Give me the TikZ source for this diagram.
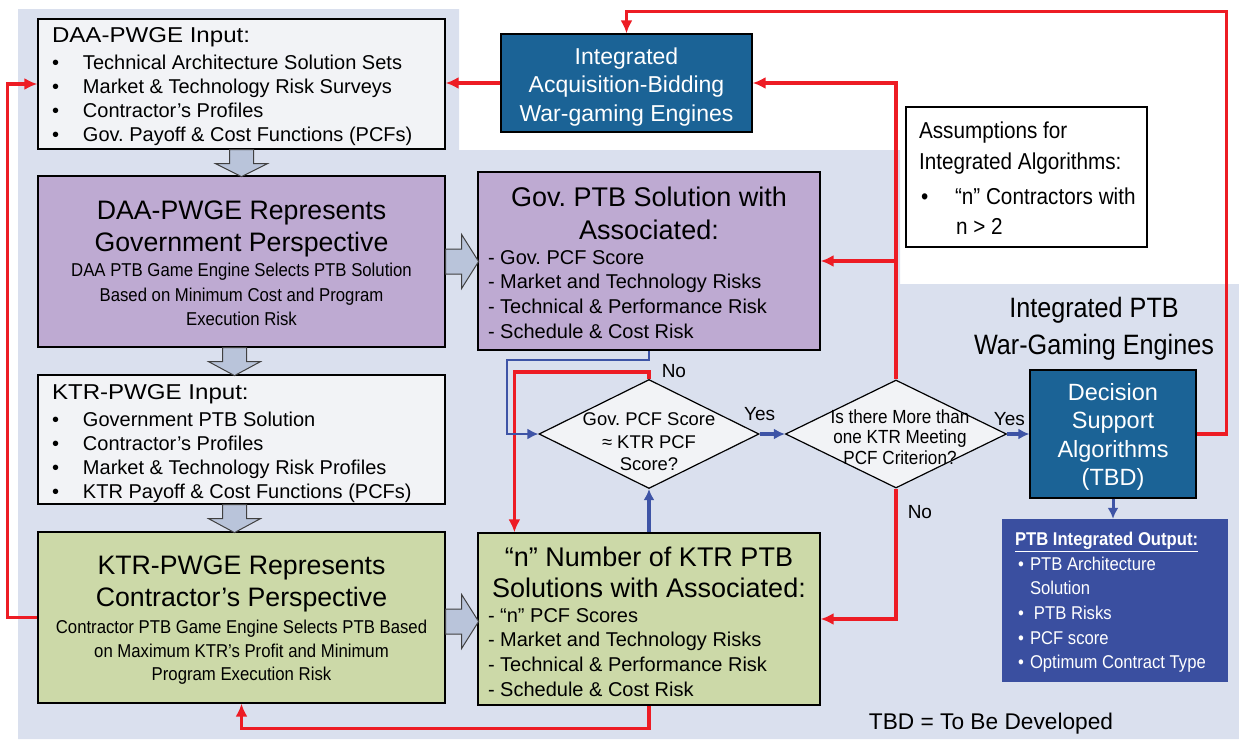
\documentclass[tikz,border=0pt]{standalone}
\usepackage{fontspec}
\setmainfont{Liberation Sans}
\newfontfamily\narrowsf[FakeStretch=0.9]{Liberation Sans}
\newfontfamily\widesf[FakeStretch=1.12]{Liberation Sans}
\usetikzlibrary{calc,positioning,shapes.geometric,arrows.meta}
\frenchspacing

\definecolor{bgblue}{RGB}{218,224,238}
\definecolor{inputgray}{RGB}{242,243,246}
\definecolor{govpurple}{RGB}{190,170,210}
\definecolor{ktrgreen}{RGB}{204,217,168}
\definecolor{engineblue}{RGB}{27,99,150}
\definecolor{outblue}{RGB}{58,79,160}
\definecolor{arrowred}{RGB}{237,28,36}
\definecolor{linkblue}{RGB}{62,84,166}
\definecolor{fatgray}{RGB}{185,196,218}

\newcommand{\itm}{\makebox[31pt][l]{\textbullet}}
\newcommand{\outitm}{\makebox[15pt][l]{\hspace{3pt}\textbullet}}
\newcommand{\textnudge}[1]{\par\kern#1\relax}

\begin{document}
\begin{tikzpicture}[x=1pt,y=-1pt,
                >={Latex[length=13pt,width=12pt]},
                leftpara/.style={execute at begin node={\spaceskip=0pt\xspaceskip=0pt\relax\raggedright}},
                midpara/.style={execute at begin node={\spaceskip=0pt\xspaceskip=0pt\relax\centering}},
                inbox/.style={draw,line width=1.2pt,fill=inputgray,leftpara,inner xsep=14pt,
                    text width=379pt,minimum width=407pt,font=\fontsize{20}{24}\selectfont},
                repbox/.style={draw,line width=1.2pt,fill=#1,midpara,inner xsep=6pt,
                    text width=395pt,minimum width=407pt,font=\fontsize{18.6}{24.5}\selectfont},
                solbox/.style={draw,line width=1.2pt,fill=#1,leftpara,inner xsep=10pt,
                    text width=322pt,minimum width=342pt,font=\fontsize{20}{24.6}\selectfont},
                enginebox/.style={draw,line width=1.2pt,fill=engineblue,text=white,midpara,inner sep=0pt},
                decision/.style={diamond,draw,line width=1.2pt,fill=inputgray,inner sep=0pt,
                    minimum width=220pt,minimum height=109pt},
                lbl/.style={inner sep=0pt,font=\fontsize{19}{20}\selectfont},
                redline/.style={draw=arrowred,line width=3.5pt,->},
                blueline/.style={draw=linkblue,line width=#1,>={Latex[length=11pt,width=11pt]},->},
                fatarrow/.style={draw=black!75,line width=1pt,fill=fatgray}
            ]
                \useasboundingbox (0,0) rectangle (1239,739);
                \fill[bgblue] (18,9) -- (459,9) -- (459,150) -- (900,150) -- (900,284)
                    -- (1239,284) -- (1239,739) -- (18,739) -- cycle;

                % left column
                \node[inbox,minimum height=130pt] (daain) at (241.5,84)
                    {{\widesf\fontsize{21.5}{24}\selectfont DAA-PWGE Input:}\\[3pt]
                     \itm Technical Architecture Solution Sets\\
                     \itm Market \& Technology Risk Surveys\\
                     \itm Contractor’s Profiles\\
                     \itm Gov. Payoff \& Cost Functions (PCFs)\textnudge{-6pt}};
                \node[repbox=govpurple,minimum height=171pt] (daarep) at (241.5,261.5)
                    {{\fontsize{26.7}{32}\selectfont DAA-PWGE Represents\\Government Perspective\par}
                     \vspace{1pt}
                     {\narrowsf\fontsize{18.6}{24.5}\selectfont DAA PTB Game Engine Selects PTB Solution\\
                      Based on Minimum Cost and Program\\Execution Risk\par}\textnudge{-3.4pt}};
                \node[inbox,minimum height=129pt] (ktrin) at (241.5,439.5)
                    {{\widesf\fontsize{21.5}{24}\selectfont KTR-PWGE Input:}\\[3pt]
                     \itm Government PTB Solution\\
                     \itm Contractor’s Profiles\\
                     \itm Market \& Technology Risk Profiles\\
                     \itm KTR Payoff \& Cost Functions (PCFs)\textnudge{-8pt}};
                \node[repbox=ktrgreen,minimum height=171pt] (ktrrep) at (241.5,617.5)
                    {{\fontsize{26.7}{32}\selectfont KTR-PWGE Represents\\Contractor’s Perspective\par}
                     \vspace{3.7pt}
                     {\narrowsf\fontsize{18.6}{23.5}\selectfont Contractor PTB Game Engine Selects PTB Based\\
                      on Maximum KTR’s Profit and Minimum\\Program Execution Risk\par}\textnudge{-5pt}};

                % middle column
                \node[enginebox,minimum width=251pt,minimum height=98pt,text width=245pt,
                    font=\fontsize{23}{28.5}\selectfont] (iabwe) at (626.5,83)
                    {Integrated\\Acquisition-Bidding\\War-gaming Engines\textnudge{-8pt}};
                \node[solbox=govpurple,minimum height=178pt] (govsol) at (649,261)
                    {{\centering\fontsize{27}{33}\selectfont Gov. PTB Solution with\\Associated:\par}
                     - Gov. PCF Score\\
                     - Market and Technology Risks\\
                     - Technical \& Performance Risk\\
                     - Schedule \& Cost Risk\textnudge{-3.4pt}};
                \node[solbox=ktrgreen,minimum height=172pt] (nsol) at (649,619)
                    {{\centering\fontsize{27}{31}\selectfont “n” Number of KTR PTB\\Solutions with Associated:\par}
                     - “n” PCF Scores\\
                     - Market and Technology Risks\\
                     - Technical \& Performance Risk\\
                     - Schedule \& Cost Risk\textnudge{-5.4pt}};
                \node[decision] (dia1) at (649,434) {};
                \node[midpara,text width=170pt,font=\fontsize{18.4}{22.5}\selectfont] (dia1txt)
                    at ($(dia1)+(0,8)$) {Gov. PCF Score\\≈ KTR PCF\\Score?};
                \node[decision,minimum width=221pt,minimum height=108pt] (dia2) at (896,434) {};
                \node[midpara,text width=170pt,font=\narrowsf\fontsize{19}{20.5}\selectfont] (dia2txt)
                    at ($(dia2)+(4,3)$) {Is there More than\\one KTR Meeting\\PCF Criterion?};

                % right column
                \node[draw,line width=1.2pt,fill=white,leftpara,inner xsep=13pt,text width=215pt,
                    minimum width=241pt,minimum height=140pt,font=\narrowsf\fontsize{23}{30.5}\selectfont]
                    (assume) at (1026.5,177)
                    {Assumptions for\\Integrated Algorithms:\\[4.5pt]
                     \mbox{\makebox[36pt][l]{\hspace{2pt}\textbullet}“n” Contractors with}\\
                     \hspace*{37pt}n > 2\textnudge{-3.2pt}};
                \node[midpara,text width=260pt,font=\narrowsf\fontsize{28}{37}\selectfont] (ptbhead)
                    at (1094,329) {Integrated PTB\\War-Gaming Engines};
                \node[enginebox,minimum width=166pt,minimum height=128pt,text width=160pt,
                    font=\fontsize{23.5}{28.5}\selectfont] (dss) at (1113,434)
                    {Decision\\Support\\Algorithms\\(TBD)\textnudge{-6.3pt}};
                \node[draw=outblue,fill=outblue,text=white,leftpara,inner xsep=13pt,text width=199pt,
                    minimum width=225pt,minimum height=162pt,font=\narrowsf\fontsize{18.5}{24.6}\selectfont]
                    (ptbout) at (1114.5,600)
                    {{\bfseries\underline{PTB Integrated Output:}}\\
                     \outitm PTB Architecture\\
                     \hspace*{15pt}Solution\\
                     \outitm\hspace{4pt}PTB Risks\\
                     \outitm PCF score\\
                     \outitm Optimum Contract Type\textnudge{-4.8pt}};
                \node[font=\fontsize{22.7}{24}\selectfont] (tbd) at (991,724) {TBD = To Be Developed};

                % gray block arrows
                \draw[fatarrow,shift={(daain.south)}] (-12,0) -- (12,0) -- (12,14) -- (26,14) -- (0,27) -- (-26,14) -- (-12,14) -- cycle;
                \draw[fatarrow,shift={($(daarep.south)+(-7,0)$)}] (-12,0) -- (12,0) -- (12,14) -- (26,14) -- (0,28) -- (-26,14) -- (-12,14) -- cycle;
                \draw[fatarrow,shift={($(ktrin.south)+(-7,0)$)}] (-12,0) -- (12,0) -- (12,14) -- (26,14) -- (0,28) -- (-26,14) -- (-12,14) -- cycle;
                \draw[fatarrow,shift={(daarep.east)}] (0,-12.5) -- (16,-12.5) -- (16,-27) -- (33,0) -- (16,27) -- (16,12.5) -- (0,12.5) -- cycle;
                \draw[fatarrow,shift={($(ktrrep.east)+(0,4)$)}] (0,-12.5) -- (16,-12.5) -- (16,-27) -- (33,0) -- (16,27) -- (16,12.5) -- (0,12.5) -- cycle;

                % red feedback connectors
                \draw[redline] (iabwe.west) -- (iabwe.west -| daain.east);
                \draw[redline] (dss.east) -- ++(30,0) |- ($(iabwe.north)+(0,-22)$) -- (iabwe.north);
                \draw[redline] (dia2.north) |- (iabwe.east);
                \draw[redline] (dia2.north |- govsol.east) -- (govsol.east);
                \draw[redline] (dia2.south) |- node[lbl,pos=0,anchor=north west,xshift=10pt,yshift=-15pt]{No} (nsol.east);
                \draw[redline] (dia1.north) -- node[lbl,pos=0,anchor=south west,xshift=11pt,yshift=-1pt]{No} ++(0,-7)
                    -| ($(nsol.north west)+(37,0)$);
                \draw[redline] (nsol.south) -- ++(0,23) -| (ktrrep.south);
                \draw[redline] (ktrrep.west) -- ++(-30,0) |- (daain.west);

                % blue flow connectors
                \draw[blueline=2pt] (govsol.south) -- ++(0,9) -| ($(dia1.west)+(-31,0)$) -- (dia1.west);
                \draw[blueline=3.5pt] (nsol.north) -- (dia1.south);
                \draw[blueline=3.5pt] (dia1.east) -- node[lbl,pos=0,above=12pt]{Yes} (dia2.west);
                \draw[blueline=3.5pt] (dia2.east) -- node[lbl,pos=0.1,above=7pt]{Yes} (dss.west);
                \draw[blueline=3pt] (dss.south) -- (dss.south |- ptbout.north);
            \end{tikzpicture}
\end{document}
